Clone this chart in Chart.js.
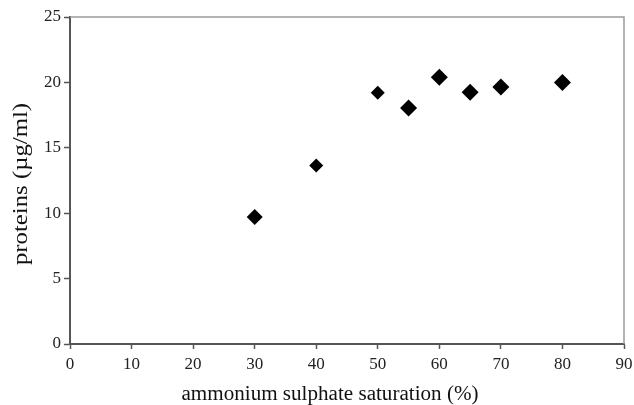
<!DOCTYPE html>
<html>
<head>
<meta charset="utf-8">
<script src="https://cdn.jsdelivr.net/npm/chart.js@4"></script>
<style>
  html, body { margin: 0; padding: 0; background: #fff; }
  #wrap { width: 634px; height: 405px; }
</style>
</head>
<body>
<div id="wrap"><canvas id="chart"></canvas></div>
<script>
// ammonium sulphate saturation (%) and protein concentration (µg/ml)
const saturation = [30, 40, 50, 55, 60, 65, 70, 80];
const proteins = [9.7, 13.65, 19.2, 18.05, 20.4, 19.25, 19.65, 20.0];
const xTicks = [0, 10, 20, 30, 40, 50, 60, 70, 80, 90];
const yTicks = [0, 5, 10, 15, 20, 25];
const xTitle = "ammonium sulphate saturation (%)";
const yTitle = "proteins (µg/ml)";

// marker sizes differ slightly in the original
const markerRadius = [8, 7, 7, 8.5, 8.5, 8.5, 8.5, 8.5];

const serif = "'Liberation Serif', 'Times New Roman', serif";

// the original axis titles are a bit stretched, so draw them by hand
function drawStretched(ctx, text, x, y, width, angle) {
  const w = ctx.measureText(text).width;
  ctx.save();
  ctx.translate(x, y);
  ctx.rotate(angle);
  ctx.scale(width / w, 1);
  ctx.fillText(text, 0, 0);
  ctx.restore();
}

const decorations = {
  id: "decorations",
  afterDraw(chart) {
    const { ctx, chartArea: a } = chart;
    ctx.save();
    // light gray frame along the top and right of the plot area
    ctx.strokeStyle = "#9a9a9a";
    ctx.lineWidth = 1.5;
    ctx.beginPath();
    ctx.moveTo(a.left, a.top);
    ctx.lineTo(a.right, a.top);
    ctx.lineTo(a.right, a.bottom);
    ctx.stroke();

    // axis titles
    ctx.fillStyle = "#111";
    ctx.font = "20px " + serif;
    ctx.textAlign = "center";
    ctx.textBaseline = "middle";
    drawStretched(ctx, xTitle, 330, 395, 297, 0);
    drawStretched(ctx, yTitle, 22, 184, 162, -Math.PI / 2);
    ctx.restore();
  }
};

new Chart("chart", {
  type: "scatter",
  data: {
    datasets: [
      {
        data: saturation.map((x, i) => ({ x: x, y: proteins[i] })),
        pointStyle: "rectRot",
        pointRadius: markerRadius,
        pointHoverRadius: markerRadius,
        backgroundColor: "#000",
        borderColor: "#000",
        borderWidth: 0,
      },
    ],
  },
  options: {
    responsive: true,
    maintainAspectRatio: false,
    animation: false,
    layout: { padding: { top: 17, right: 10, left: 0, bottom: 0 } },
    plugins: {
      legend: { display: false },
      tooltip: { enabled: false },
    },
    scales: {
      x: {
        type: "linear",
        min: 0,
        max: 90,
        afterBuildTicks: (s) => { s.ticks = xTicks.map((v) => ({ value: v })); },
        afterFit: (s) => {
          s.height = 61;
          s.paddingLeft = 0;
          s.paddingRight = 0;
        },
        grid: { drawOnChartArea: false, tickLength: 5, tickColor: "#555", tickWidth: 1.5 },
        border: { color: "#555", width: 2 },
        ticks: { color: "#222", font: { family: serif, size: 17 }, padding: 5, maxRotation: 0 },
      },
      y: {
        type: "linear",
        min: 0,
        max: 25,
        afterBuildTicks: (s) => { s.ticks = yTicks.map((v) => ({ value: v })); },
        afterFit: (s) => {
          s.width = 70;
          s.paddingTop = 0;
          s.paddingBottom = 0;
        },
        grid: { drawOnChartArea: false, tickLength: 6, tickColor: "#555", tickWidth: 1.5 },
        border: { color: "#555", width: 2 },
        ticks: { color: "#222", font: { family: serif, size: 17 }, padding: 3 },
      },
    },
  },
  plugins: [decorations],
});
</script>
</body>
</html>
